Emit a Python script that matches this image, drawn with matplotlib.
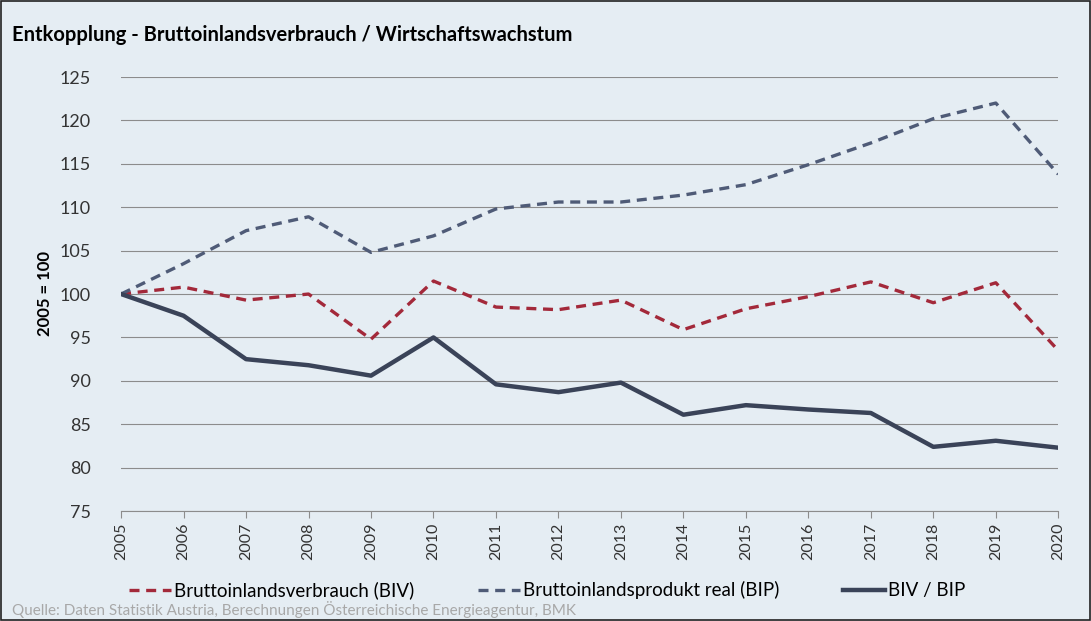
import matplotlib.pyplot as plt
from matplotlib.patches import Rectangle

years = list(range(2005, 2021))
biv = [100, 100.8, 99.3, 100, 94.8, 101.5, 98.5, 98.2, 99.3, 95.9, 98.3, 99.7, 101.4, 99.0, 101.3, 93.5]
bip = [100, 103.5, 107.3, 108.9, 104.8, 106.7, 109.8, 110.6, 110.6, 111.4, 112.6, 114.9, 117.4, 120.2, 122.0, 113.8]
ratio = [100, 97.5, 92.5, 91.8, 90.6, 95.0, 89.6, 88.7, 89.8, 86.1, 87.2, 86.7, 86.3, 82.4, 83.1, 82.3]
yticks = [75, 80, 85, 90, 95, 100, 105, 110, 115, 120, 125]

plt.rcParams['font.family'] = ['Lato', 'DejaVu Sans']
bg = "#e5edf3"

fig = plt.figure(figsize=(10.91, 6.21), dpi=100, facecolor=bg)
fig.patches.append(Rectangle((0.001, 0.001), 0.998, 0.997, transform=fig.transFigure,
                             fill=False, edgecolor="#222222", linewidth=1.2))
ax = fig.add_axes([0.111, 0.177, 0.859, 0.699])
ax.set_facecolor(bg)

ax.plot(years, biv, color="#a3293a", linestyle=(0, (3, 2)), linewidth=2.4,
        label="Bruttoinlandsverbrauch (BIV)")
ax.plot(years, bip, color="#4f5b77", linestyle=(0, (3, 2)), linewidth=2.4,
        label="Bruttoinlandsprodukt real (BIP)")
ax.plot(years, ratio, color="#3a4358", linewidth=3.2, label="BIV / BIP")

ax.set_xlim(2005, 2020)
ax.set_ylim(75, 125)
ax.set_yticks(yticks)
ax.set_xticks(years)
ax.set_xticklabels([str(y) for y in years], rotation=90)
ax.grid(axis="y", color="#8c8c8c", linewidth=0.8)
ax.set_axisbelow(True)
for s in ["top", "right", "left"]:
    ax.spines[s].set_visible(False)
ax.spines["bottom"].set_color("#8c8c8c")
ax.tick_params(axis="y", length=0, labelsize=13, colors="#333333", pad=22)
ax.tick_params(axis="x", length=5, color="#8c8c8c", labelsize=11.5, colors="#333333")

fig.text(0.041, 0.527, "2005 = 100", rotation=90, fontsize=12, fontweight="bold",
         ha="center", va="center")
fig.text(0.011, 0.943, "Entkopplung - Bruttoinlandsverbrauch / Wirtschaftswachstum",
         fontsize=14.5, fontweight="bold", ha="left", va="center")

ax.legend(loc="center", bbox_to_anchor=(0.455, -0.182), ncol=3, frameon=False,
          fontsize=13.5, handlelength=2.2, columnspacing=3.4, handletextpad=0.2)
fig.text(0.011, 0.018, "Quelle: Daten Statistik Austria, Berechnungen Österreichische Energieagentur, BMK",
         fontsize=11, color="#a8a8a8", ha="left", va="center")

fig.savefig("out.png", dpi=100, facecolor=bg)
